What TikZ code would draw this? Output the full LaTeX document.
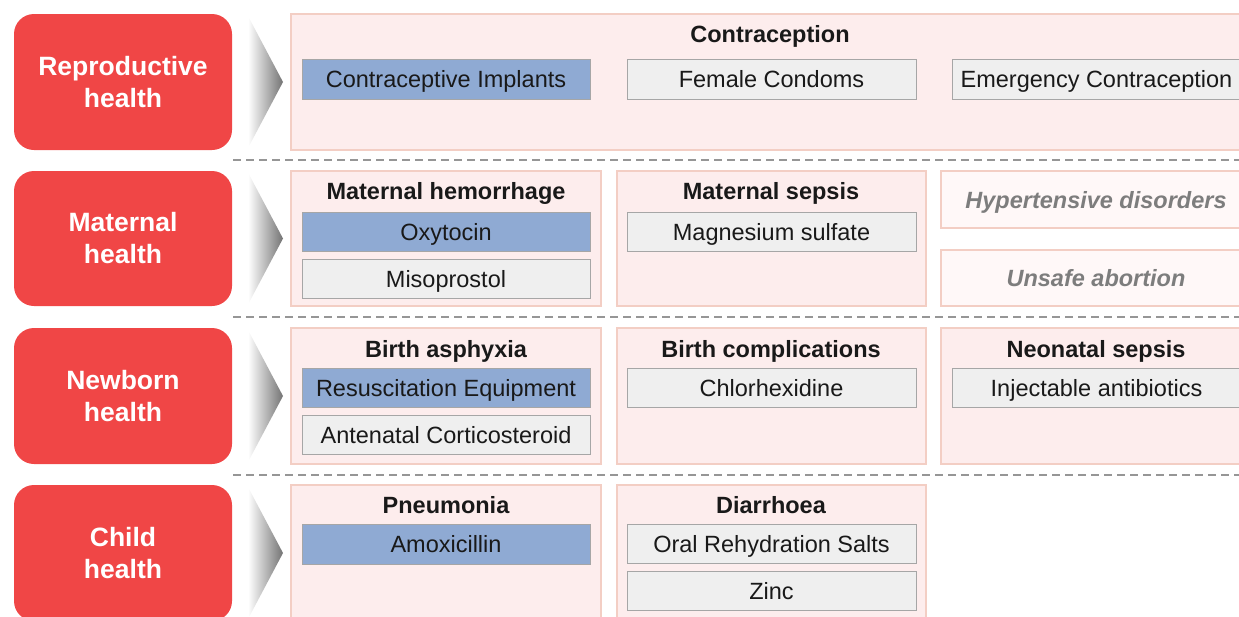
\documentclass[tikz,border=0pt]{standalone}
\usepackage{fontspec}
\setmainfont{Liberation Sans}
\definecolor{catred}{RGB}{240,70,70}
\definecolor{grpfill}{RGB}{253,237,237}
\definecolor{grpline}{RGB}{243,206,196}
\definecolor{litefill}{RGB}{255,248,248}
\definecolor{bluefill}{RGB}{143,170,211}
\definecolor{itemfill}{RGB}{239,239,239}
\definecolor{itemline}{RGB}{166,166,166}
\definecolor{dashcol}{RGB}{150,150,150}
\definecolor{mutetext}{RGB}{125,125,125}
\newcommand\bx[7]{\node[#2, minimum width={(#5-#3)*1pt}, minimum height={(#6-#4)*1pt}] (#1) at ({(#3+#5)/2},{(#4+#6)/2}) {#7};}
\begin{document}
\begin{tikzpicture}[x=1pt,y=-1pt,
  every node/.style={inner sep=0pt, outer sep=0pt},
  cat/.style={fill=catred, rounded corners=20pt, text=white, align=center,
    font=\fontsize{26.5}{32}\selectfont\bfseries},
  grp/.style={fill=grpfill, draw=grpline, line width=1.2pt},
  lite/.style={fill=litefill, draw=grpline, line width=1.2pt, text=mutetext,
    text height=17pt, text depth=0pt,
    font=\fontsize{23.5}{28}\selectfont\bfseries\itshape},
  ttl/.style={font=\fontsize{23.5}{28}\selectfont\bfseries, text=black!90,
    text height=17pt, text depth=0pt},
  blu/.style={fill=bluefill, draw=itemline, line width=1pt, text=black!90,
    text height=17pt, text depth=0pt, font=\fontsize{23.5}{28}\selectfont},
  itm/.style={fill=itemfill, draw=itemline, line width=1pt, text=black!90,
    text height=17pt, text depth=0pt, font=\fontsize{23.5}{28}\selectfont},
  chev/.style={left color=white, right color=black!55, draw=none},
  dashline/.style={draw=dashcol, line width=1.6pt, dash pattern=on 8pt off 5pt}
]
\useasboundingbox (0,0) rectangle (1239,616);
\clip (0,0) rectangle (1239,616);

% category boxes
\bx{c1}{cat}{14}{14}{232}{150}{Reproductive\\health}
\bx{c2}{cat}{14}{171}{232}{306}{Maternal\\health}
\bx{c3}{cat}{14}{328}{232}{464}{Newborn\\health}
\bx{c4}{cat}{14}{485}{232}{621}{Child\\health}

% chevrons
\foreach \c in {82,238.5,396,553}{
  \shade[chev] (248,{\c-66}) -- (283,\c) -- (248,{\c+66}) -- cycle;
}

% separators
\coordinate (d1a) at (233,160); \coordinate (d1b) at (1239,160);
\coordinate (d2a) at (233,317); \coordinate (d2b) at (1239,317);
\coordinate (d3a) at (233,475); \coordinate (d3b) at (1239,475);
\draw[dashline] (d1a) -- (d1b);
\draw[dashline] (d2a) -- (d2b);
\draw[dashline] (d3a) -- (d3b);

% row 1
\bx{g1}{grp}{291}{14}{1251}{150}{}
\node[ttl] (t1) at (770,34) {Contraception};
\bx{i11}{blu}{302}{59}{590}{99}{Contraceptive Implants}
\bx{i12}{itm}{627}{59}{916}{99}{Female Condoms}
\bx{i13}{itm}{952}{59}{1241}{99}{Emergency Contraception}

% row 2
\bx{g21}{grp}{291}{171}{601}{306}{}
\node[ttl] (t21) at (446,191) {Maternal hemorrhage};
\bx{i211}{blu}{302}{212}{590}{251}{Oxytocin}
\bx{i212}{itm}{302}{259}{590}{298}{Misoprostol}
\bx{g22}{grp}{617}{171}{926}{306}{}
\node[ttl] (t22) at (771,191) {Maternal sepsis};
\bx{i221}{itm}{627}{212}{916}{251}{Magnesium sulfate}
\bx{g23}{lite}{941}{171}{1251}{228}{Hypertensive disorders}
\bx{g24}{lite}{941}{250}{1251}{306}{Unsafe abortion}

% row 3
\bx{g31}{grp}{291}{328}{601}{464}{}
\node[ttl] (t31) at (446,349) {Birth asphyxia};
\bx{i311}{blu}{302}{368}{590}{407}{Resuscitation Equipment}
\bx{i312}{itm}{302}{415}{590}{454}{Antenatal Corticosteroid}
\bx{g32}{grp}{617}{328}{926}{464}{}
\node[ttl] (t32) at (771,349) {Birth complications};
\bx{i321}{itm}{627}{368}{916}{407}{Chlorhexidine}
\bx{g33}{grp}{941}{328}{1251}{464}{}
\node[ttl] (t33) at (1096,349) {Neonatal sepsis};
\bx{i331}{itm}{952}{368}{1241}{407}{Injectable antibiotics}

% row 4
\bx{g41}{grp}{291}{485}{601}{625}{}
\node[ttl] (t41) at (446,505) {Pneumonia};
\bx{i411}{blu}{302}{524}{590}{564}{Amoxicillin}
\bx{g42}{grp}{617}{485}{926}{625}{}
\node[ttl] (t42) at (771,505) {Diarrhoea};
\bx{i421}{itm}{627}{524}{916}{563}{Oral Rehydration Salts}
\bx{i422}{itm}{627}{571}{916}{610}{Zinc}
\end{tikzpicture}
\end{document}
